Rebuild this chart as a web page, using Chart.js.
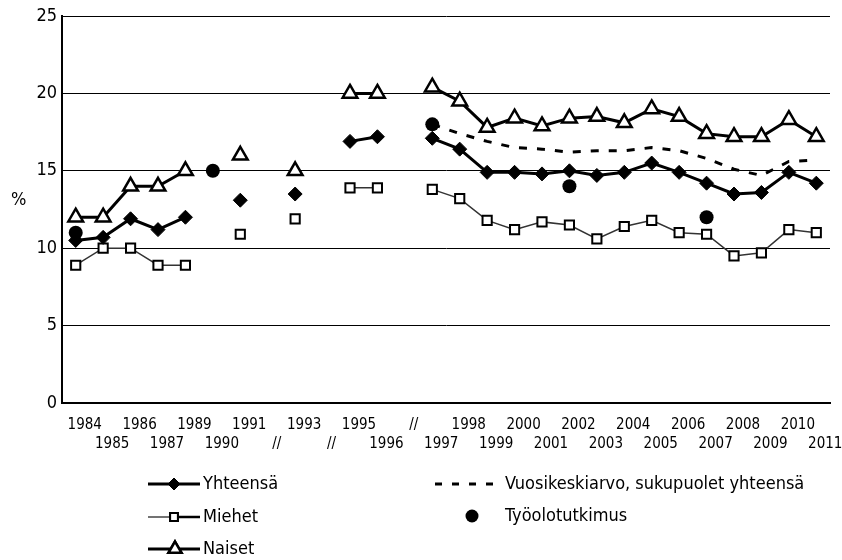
<!DOCTYPE html>
<html>
<head>
<meta charset="utf-8">
<script src="https://cdn.jsdelivr.net/npm/chart.js@4.4.1/dist/chart.umd.min.js"></script>
<style>
  html, body { margin: 0; padding: 0; background: #fff; }
  #wrap { width: 842px; height: 560px; position: relative; }
</style>
</head>
<body>
<div id="wrap"><canvas id="lineChart" width="842" height="560"></canvas></div>
<script>
  // categories ("//" = break in the series)
  var years = ['1984', '1985', '1986', '1987', '1989', '1990', '1991', '//', '1993', '//', '1995', '1996', '//',
    '1997', '1998', '1999', '2000', '2001', '2002', '2003', '2004', '2005', '2006', '2007', '2008', '2009', '2010', '2011'];

  var yhteensa = [10.5, 10.7, 11.9, 11.2, 12.0, null, 13.1, null, 13.5, null, 16.9, 17.2, null,
    17.1, 16.4, 14.9, 14.9, 14.8, 15.0, 14.7, 14.9, 15.5, 14.9, 14.2, 13.5, 13.6, 14.9, 14.2];
  var miehet = [8.9, 10.0, 10.0, 8.9, 8.9, null, 10.9, null, 11.9, null, 13.9, 13.9, null,
    13.8, 13.2, 11.8, 11.2, 11.7, 11.5, 10.6, 11.4, 11.8, 11.0, 10.9, 9.5, 9.7, 11.2, 11.0];
  var naiset = [12, 12, 14, 14, 15, null, 16, null, 15, null, 20, 20, null,
    20.4, 19.5, 17.8, 18.4, 17.9, 18.4, 18.5, 18.1, 19.0, 18.5, 17.4, 17.2, 17.2, 18.3, 17.2];
  var vuosikeskiarvo = [null, null, null, null, null, null, null, null, null, null, null, null, null,
    18.0, 17.4, 16.9, 16.5, 16.4, 16.2, 16.3, 16.3, 16.5, 16.3, 15.8, 15.1, 14.7, 15.6, 15.7];
  var tyoolotutkimus = [11, null, null, null, null, 15, null, null, null, null, null, null, null,
    18, null, null, null, null, 14, null, null, null, null, 12, null, null, null, null];

  var yTicks = [0, 5, 10, 15, 20, 25];

  var FONT = "'DejaVu Sans Condensed', 'Liberation Sans', sans-serif";

  // two staggered rows of year labels
  var xLabels = years.map(function (y, i) { return i % 2 === 0 ? [y, ''] : ['', y]; });

  var legendPlugin = {
    id: 'sideText',
    afterDraw: function (chart) {
      var ctx = chart.ctx;
      var dp = Chart.helpers.drawPoint;
      ctx.save();
      ctx.fillStyle = '#000';
      ctx.font = '18px ' + FONT;
      ctx.textBaseline = 'middle';
      ctx.fillText('%', 11, 200);

      function line(x1, x2, y, w, col) {
        ctx.beginPath();
        ctx.lineWidth = w;
        ctx.strokeStyle = col;
        ctx.moveTo(x1, y);
        ctx.lineTo(x2, y);
        ctx.stroke();
      }
      // Yhteensä
      line(148, 200, 484, 3, '#000');
      ctx.fillStyle = '#000'; ctx.strokeStyle = '#000'; ctx.lineWidth = 1;
      dp(ctx, { pointStyle: 'rectRot', radius: 6, borderWidth: 1 }, 174, 484);
      ctx.fill();
      // Miehet
      line(148, 170, 517, 1.5, '#444');
      line(178, 200, 517, 2.5, '#000');
      ctx.fillStyle = '#fff'; ctx.strokeStyle = '#000'; ctx.lineWidth = 2;
      dp(ctx, { pointStyle: 'rect', radius: 5.5, borderWidth: 2 }, 174, 517);
      ctx.fill(); ctx.stroke();
      // Naiset
      line(148, 200, 549, 3, '#000');
      ctx.fillStyle = '#fff'; ctx.strokeStyle = '#000'; ctx.lineWidth = 2.5;
      dp(ctx, { pointStyle: 'triangle', radius: 7.5, borderWidth: 2.5 }, 175, 549);
      ctx.fill(); ctx.stroke();
      // Vuosikeskiarvo
      ctx.setLineDash([7, 10]);
      line(435, 493, 484, 3, '#000');
      ctx.setLineDash([]);
      // Työolotutkimus
      ctx.beginPath();
      ctx.fillStyle = '#000';
      ctx.arc(472, 516, 6.5, 0, Math.PI * 2);
      ctx.fill();

      ctx.fillStyle = '#000';
      ctx.font = '18px ' + FONT;
      ctx.fillText('Yhteensä', 203, 484);
      ctx.fillText('Miehet', 203, 517);
      ctx.fillText('Naiset', 203, 549);
      ctx.fillText('Vuosikeskiarvo, sukupuolet yhteensä', 505, 484);
      ctx.fillText('Työolotutkimus', 505, 516);
      ctx.restore();
    }
  };

  var ctxL = document.getElementById('lineChart').getContext('2d');
  var myLineChart = new Chart(ctxL, {
    type: 'line',
    data: {
      labels: xLabels,
      datasets: [
        {
          label: 'Työolotutkimus',
          data: tyoolotutkimus,
          showLine: false,
          pointStyle: 'circle',
          pointRadius: 7,
          pointBackgroundColor: '#000',
          pointBorderColor: '#000',
          pointBorderWidth: 0
        },
        {
          label: 'Naiset',
          data: naiset,
          borderColor: '#000',
          borderWidth: 3,
          pointStyle: 'triangle',
          pointRadius: 8.5,
          pointBackgroundColor: '#fff',
          pointBorderColor: '#000',
          pointBorderWidth: 2.5,
          spanGaps: false
        },
        {
          label: 'Yhteensä',
          data: yhteensa,
          borderColor: '#000',
          borderWidth: 3,
          pointStyle: 'rectRot',
          pointRadius: 7,
          pointBackgroundColor: '#000',
          pointBorderColor: '#000',
          pointBorderWidth: 1,
          spanGaps: false
        },
        {
          label: 'Miehet',
          data: miehet,
          borderColor: '#333',
          borderWidth: 1.5,
          pointStyle: 'rect',
          pointRadius: 6.5,
          pointBackgroundColor: '#fff',
          pointBorderColor: '#000',
          pointBorderWidth: 2,
          spanGaps: false
        },
        {
          label: 'Vuosikeskiarvo, sukupuolet yhteensä',
          data: vuosikeskiarvo,
          borderColor: '#000',
          borderWidth: 3,
          borderDash: [8, 10],
          pointRadius: 0,
          spanGaps: false
        }
      ]
    },
    options: {
      responsive: false,
      animation: false,
      layout: { padding: { top: 16, right: 12, bottom: 107, left: 0 } },
      plugins: {
        legend: { display: false },
        tooltip: { enabled: false }
      },
      scales: {
        x: {
          offset: true,
          grid: { display: false, drawTicks: false },
          border: { display: true, color: '#000', width: 2 },
          ticks: {
            autoSkip: false,
            maxRotation: 0,
            color: '#000',
            padding: 13,
            labelOffset: 9,
            font: { family: FONT, size: 15, lineHeight: 1.27 }
          },
          afterFit: function (scale) {
            scale.height = 50;
            scale.paddingLeft = 0;
            scale.paddingRight = 0;
          }
        },
        y: {
          min: 0,
          max: 25,
          afterBuildTicks: function (scale) {
            scale.ticks = yTicks.map(function (v) { return { value: v }; });
          },
          grid: { color: '#000', lineWidth: 1, drawTicks: false },
          border: { display: true, color: '#000', width: 2 },
          ticks: {
            color: '#000',
            padding: 5,
            font: { family: FONT, size: 18 }
          },
          afterFit: function (scale) { scale.width = 62; }
        }
      }
    },
    plugins: [legendPlugin]
  });
</script>
</body>
</html>
